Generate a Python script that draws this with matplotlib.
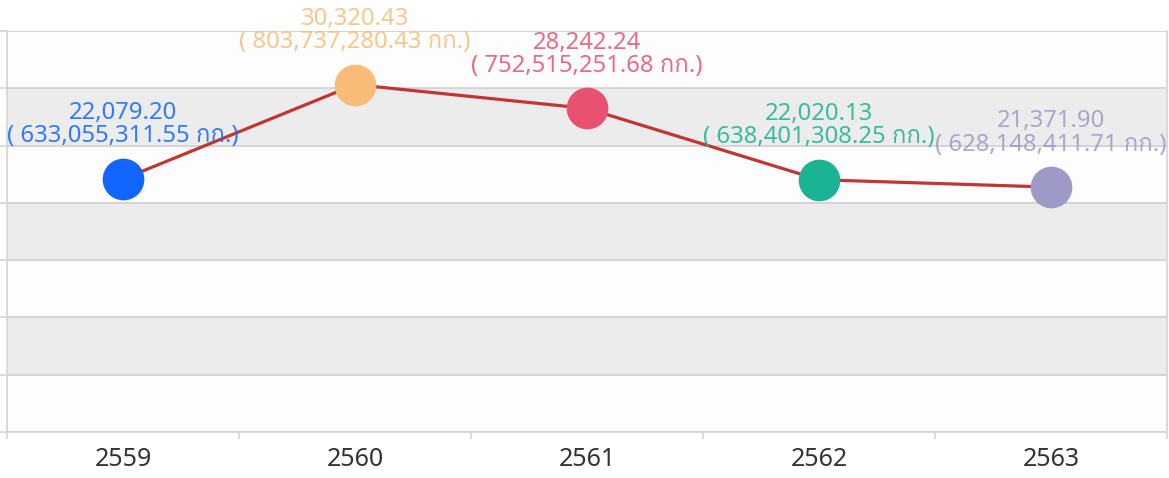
import matplotlib
matplotlib.use("Agg")
import matplotlib.pyplot as plt
from matplotlib import font_manager
from matplotlib.ft2font import FT2Font

# data
years = ["2559", "2560", "2561", "2562", "2563"]
values = [22079.20, 30320.43, 28242.24, 22020.13, 21371.90]
weights = [633055311.55, 803737280.43, 752515251.68, 638401308.25, 628148411.71]
colors = ["#1166ff", "#f8bc78", "#e8516f", "#1ab394", "#9d9ac7"]

# find something that can draw Thai
thai = []
for f in font_manager.fontManager.ttflist:
    try:
        if 0x0E01 in FT2Font(f.fname).get_charmap() and f.name not in thai:
            thai.append(f.name)
    except Exception:
        pass
fams = ["Noto Sans"] + thai + ["DejaVu Sans"]
plt.rcParams["font.family"] = fams

fig = plt.figure(figsize=(11.69, 4.78), dpi=100)
ax = fig.add_axes([7/1169, 1-432/478, 1160/1169, 401/478])
ax.set_xlim(-0.5, len(years)-0.5)
ax.set_ylim(0, 35000)

# bands
for i, lo in enumerate(range(0, 35000, 5000)):
    c = "#fdfdfd" if i % 2 == 0 else "#ececec"
    ax.axhspan(lo, lo+5000, color=c, zorder=0, lw=0)
for lo in range(0, 35001, 5000):
    ax.axhline(lo, color="#d4d4d4", lw=1.4, zorder=1)

x = list(range(len(years)))
ax.plot(x, values, color="#c23531", lw=2.3, zorder=3)
for i in x:
    ax.plot(i, values[i], "o", ms=29, color=colors[i], mec=colors[i], zorder=4)
    ax.annotate(f"{values[i]:,.2f}\n( {weights[i]:,.2f} กก.)", (i, values[i]),
                xytext=(0, 22), textcoords="offset points", ha="center", va="bottom",
                color=colors[i], alpha=0.85, fontsize=17.2, linespacing=0.95,
                annotation_clip=False, zorder=5)

ax.set_xticks(x)
ax.set_xticklabels(years, fontsize=18, color="#333333")
ax.set_xticks([i-0.5 for i in range(len(years)+1)], minor=True)
ax.tick_params(axis="x", which="major", length=0, pad=11)
ax.tick_params(axis="x", which="minor", length=5, color="#d4d4d4", width=1.2)
ax.set_yticks(range(0, 35001, 5000))
ax.set_yticklabels([])
ax.tick_params(axis="y", length=5, color="#d4d4d4", width=1.2)

ax.spines["top"].set_visible(False)
for s in ["left", "right", "bottom"]:
    ax.spines[s].set_color("#d4d4d4")
    ax.spines[s].set_linewidth(1.2)

fig.savefig("out.png", dpi=100)
